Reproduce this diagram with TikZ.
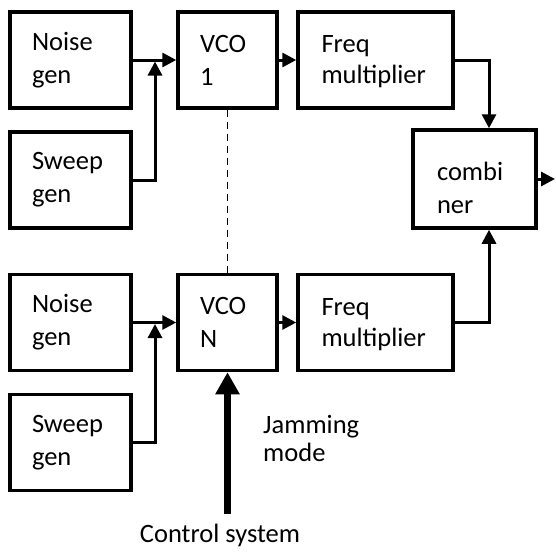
\documentclass[tikz,border=0pt]{standalone}
\usepackage{fontspec}
\setmainfont{Carlito}
\usetikzlibrary{arrows.meta,calc}
\begin{document}
\begin{tikzpicture}[x=1pt,y=-1pt,
  box/.style={draw,line width=3.5pt,inner sep=0pt,align=left,font=\fontsize{26.5}{33}\selectfont},
  gen/.style={box,minimum width=121pt,minimum height=96pt,text width=77pt},
  vco/.style={box,minimum width=99pt,minimum height=96pt,text width=55pt},
  fm/.style={box,minimum width=155pt,minimum height=96pt,text width=108pt,font=\fontsize{26.5}{31}\selectfont},
  conn/.style={line width=3pt,-{Triangle[length=14pt,width=14pt]}},
  txt/.style={inner sep=0pt,align=left,font=\fontsize{26.5}{28}\selectfont}]
\useasboundingbox (0,0) rectangle (555,557);
% top chain
\node[gen] (n1) at (70.5,60) {Noise\\gen};
\node[gen] (s1) at (70.5,180) {Sweep\\gen};
\node[vco] (v1) at (227.5,60) {VCO\\1};
\node[fm]  (f1) at (375.5,60) {\rule{0pt}{21pt}Freq\\multiplier};
% combiner
\node[box,minimum width=123pt,minimum height=98pt,text width=75pt] (comb) at (474.5,179) {\rule{0pt}{36pt}combi\\ner};
% bottom chain
\node[gen] (n2) at (70.5,322.5) {Noise\\gen};
\node[gen] (s2) at (70.5,442.5) {Sweep\\gen};
\node[vco] (v2) at (227.5,322.5) {VCO\\N};
\node[fm]  (f2) at (375.5,322.5) {\rule{0pt}{21pt}Freq\\multiplier};
% labels
\node[txt,anchor=base west] (jam) at (263,461) {Jamming\\mode};
\node[txt,anchor=base] (ctrl) at (220,542) {Control system};
% junctions
\coordinate (j1) at (155,61.5);
\coordinate (j2) at (155,324);
\coordinate (out) at (555,179);
\coordinate (cs) at (227.5,514);
% connectors top
\draw[conn] (n1) -- (v1);
\draw[conn] (s1.east) -| (j1);
\draw[conn] (v1) -- (f1);
\draw[conn] (f1.east) -| ([xshift=14.5pt]comb.north);
% connectors bottom
\draw[conn] (n2) -- (v2);
\draw[conn] (s2.east) -| (j2);
\draw[conn] (v2) -- (f2);
\draw[conn] (f2.east) -| ([xshift=14.5pt]comb.south);
% output
\draw[conn] (comb.east) -- (out);
% dashed link
\draw[line width=1.4pt,dash pattern=on 7pt off 5pt] (v1.south) -- (v2.north);
% control arrow
\draw[line width=7pt,-{Triangle[length=22pt,width=23pt]}] (cs) -- (v2.south);
\end{tikzpicture}
\end{document}
